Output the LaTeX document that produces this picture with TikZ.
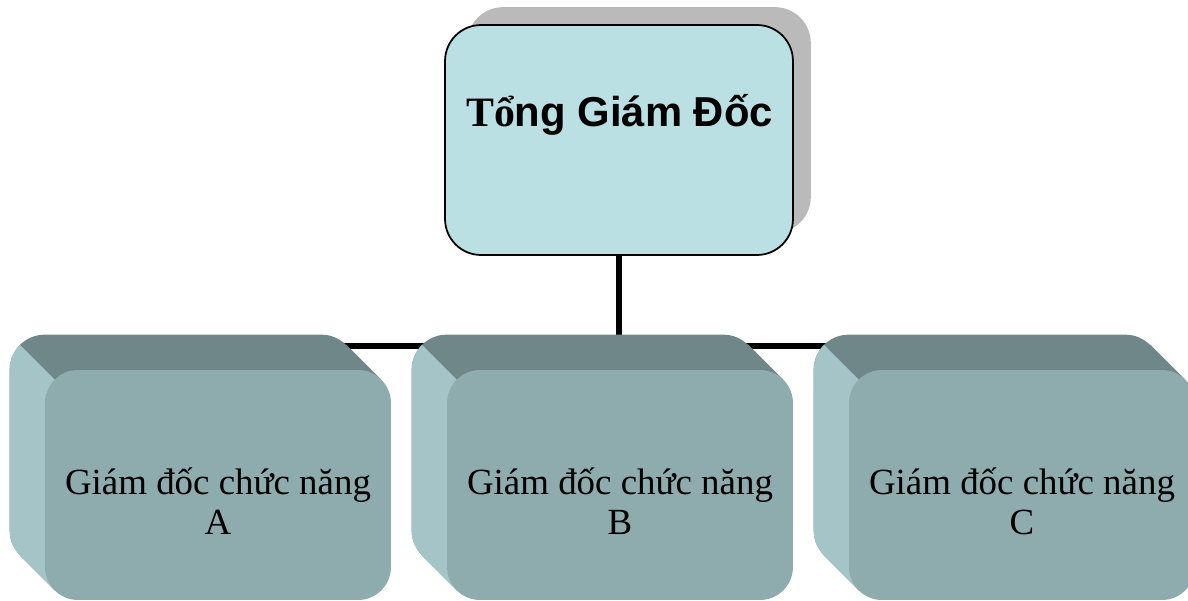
\documentclass[tikz,border=0pt]{standalone}
\usepackage{fontspec}
\setmainfont{Liberation Serif}
\setsansfont{Liberation Sans}
\usepackage{tikz}
\usetikzlibrary{calc}
\definecolor{topfill}{RGB}{187,224,228}
\definecolor{shadowgray}{RGB}{186,186,186}
\definecolor{facefill}{RGB}{142,171,173}
\definecolor{bevtopfill}{RGB}{111,135,137}
\definecolor{bevleftfill}{RGB}{164,196,199}
\tikzstyle{conn} = [draw,line width=3.4pt]
\tikzstyle{chief} = [draw,line width=1pt,fill=topfill,rounded corners=0.72cm,minimum width=6.96cm,minimum height=4.6cm]
\tikzstyle{dept} = [fill=facefill,rounded corners=0.66cm,minimum width=6.92cm,minimum height=4.6cm]
\tikzstyle{depttext} = [align=center,inner sep=0,font=\fontsize{21}{22.7}\selectfont]
\pgfdeclarelayer{bg}
\pgfdeclarelayer{bevel}
\pgfsetlayers{bg,bevel,main}

\begin{document}
\begin{tikzpicture}[x=0.02cm,y=-0.02cm]
    \useasboundingbox (0,0) rectangle (1188,601);

    \node[chief] (tgd) at (619,140) {};
    \node[anchor=base,inner sep=0,font=\fontsize{23.8}{27}\selectfont\bfseries] (tgdtext) at (619.5,127) {Tổ\sffamily ng Giám Đốc};

    \node[dept] (ga) at (218,485) {};
    \node[dept] (gb) at (620,485) {};
    \node[dept] (gc) at (1022,485) {};

    \node[depttext] (gat) at (218,501) {Giám đốc chức năng\\A};
    \node[depttext] (gbt) at (620,501) {Giám đốc chức năng\\B};
    \node[depttext] (gct) at (1022,501) {Giám đốc chức năng\\C};

    % shadow and bevels
    \begin{pgfonlayer}{bevel}
    \fill[shadowgray,rounded corners=0.72cm] ($(tgd.north west)+(23,-17)$) rectangle ($(tgd.south east)+(17,-23)$);

    \fill[bevtopfill,rounded corners=0.7cm] ($(ga.north west)+(-35,-35)$) rectangle ($(ga.south east)+(-35,-35)$);
    \fill[bevtopfill] ($(ga.north east)+(-45,-25)$) -- ($(ga.north east)+(-10,10)$) -- ($(ga.south west)+(10,-10)$) -- ($(ga.south west)+(-25,-45)$) -- cycle;
    \begin{scope}
      \clip ($(ga.north west)+(-265,-265)$) -- ($(ga.north west)+(435,435)$) -- ($(ga.north west)+(-265,435)$) -- cycle;
      \fill[bevleftfill,rounded corners=0.7cm] ($(ga.north west)+(-35,-35)$) rectangle ($(ga.south east)+(-35,-35)$);
      \fill[bevleftfill] ($(ga.north east)+(-45,-25)$) -- ($(ga.north east)+(-10,10)$) -- ($(ga.south west)+(10,-10)$) -- ($(ga.south west)+(-25,-45)$) -- cycle;
    \end{scope}

    \fill[bevtopfill,rounded corners=0.7cm] ($(gb.north west)+(-35,-35)$) rectangle ($(gb.south east)+(-35,-35)$);
    \fill[bevtopfill] ($(gb.north east)+(-45,-25)$) -- ($(gb.north east)+(-10,10)$) -- ($(gb.south west)+(10,-10)$) -- ($(gb.south west)+(-25,-45)$) -- cycle;
    \begin{scope}
      \clip ($(gb.north west)+(-265,-265)$) -- ($(gb.north west)+(435,435)$) -- ($(gb.north west)+(-265,435)$) -- cycle;
      \fill[bevleftfill,rounded corners=0.7cm] ($(gb.north west)+(-35,-35)$) rectangle ($(gb.south east)+(-35,-35)$);
      \fill[bevleftfill] ($(gb.north east)+(-45,-25)$) -- ($(gb.north east)+(-10,10)$) -- ($(gb.south west)+(10,-10)$) -- ($(gb.south west)+(-25,-45)$) -- cycle;
    \end{scope}

    \fill[bevtopfill,rounded corners=0.7cm] ($(gc.north west)+(-35,-35)$) rectangle ($(gc.south east)+(-35,-35)$);
    \fill[bevtopfill] ($(gc.north east)+(-45,-25)$) -- ($(gc.north east)+(-10,10)$) -- ($(gc.south west)+(10,-10)$) -- ($(gc.south west)+(-25,-45)$) -- cycle;
    \begin{scope}
      \clip ($(gc.north west)+(-265,-265)$) -- ($(gc.north west)+(435,435)$) -- ($(gc.north west)+(-265,435)$) -- cycle;
      \fill[bevleftfill,rounded corners=0.7cm] ($(gc.north west)+(-35,-35)$) rectangle ($(gc.south east)+(-35,-35)$);
      \fill[bevleftfill] ($(gc.north east)+(-45,-25)$) -- ($(gc.north east)+(-10,10)$) -- ($(gc.south west)+(10,-10)$) -- ($(gc.south west)+(-25,-45)$) -- cycle;
    \end{scope}
    \end{pgfonlayer}

    % connectors
    \coordinate (bus) at (619,346);
    \begin{pgfonlayer}{bg}
    \draw[conn] (tgd.south) -- (bus);
    \draw[conn] (ga.north |- bus) -- (gc.north |- bus);
    \draw[conn] (ga.north |- bus) -- (ga.north);
    \draw[conn] (gb.north |- bus) -- (gb.north);
    \draw[conn] (gc.north |- bus) -- (gc.north);
    \end{pgfonlayer}

\end{tikzpicture}
\end{document}
